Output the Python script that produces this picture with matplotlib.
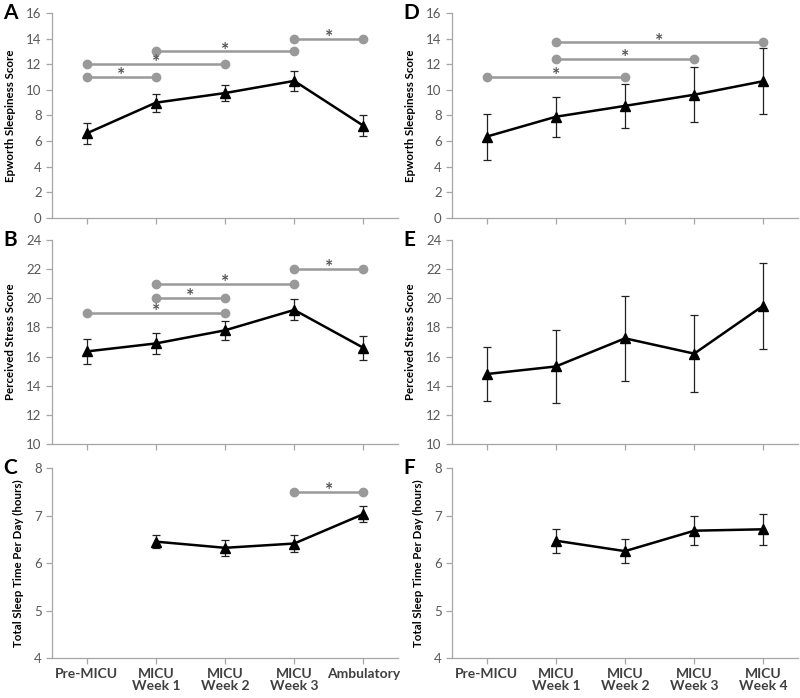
import matplotlib.pyplot as plt
import numpy as np

plt.rcParams['font.family'] = ['Lato', 'DejaVu Sans']

# Categories
cats_left = ['Pre-MICU', 'MICU\nWeek 1', 'MICU\nWeek 2', 'MICU\nWeek 3', 'Ambulatory']
cats_right = ['Pre-MICU', 'MICU\nWeek 1', 'MICU\nWeek 2', 'MICU\nWeek 3', 'MICU\nWeek 4']

# Panel A - Epworth Sleepiness Score
a_mean = [6.6, 9.0, 9.75, 10.7, 7.2]
a_err = [0.8, 0.7, 0.65, 0.78, 0.8]
a_sig = [(0, 1, 11), (0, 2, 12), (1, 3, 13), (3, 4, 14)]

# Panel B - Perceived Stress Score
b_mean = [16.35, 16.9, 17.8, 19.2, 16.6]
b_err = [0.85, 0.7, 0.65, 0.72, 0.83]
b_sig = [(0, 2, 19), (1, 2, 20), (1, 3, 21), (3, 4, 22)]

# Panel C - Total sleep time (no Pre-MICU value)
c_mean = [np.nan, 6.45, 6.32, 6.41, 7.03]
c_err = [np.nan, 0.13, 0.17, 0.18, 0.16]
c_sig = [(3, 4, 7.5)]

# Panel D
d_mean = [6.35, 7.9, 8.75, 9.62, 10.68]
d_err = [1.8, 1.55, 1.7, 2.15, 2.55]
d_sig = [(0, 2, 11), (1, 3, 12.4), (1, 4, 13.7)]

# Panel E
e_mean = [14.8, 15.32, 17.25, 16.2, 19.5]
e_err = [1.85, 2.5, 2.9, 2.65, 2.95]
e_sig = []

# Panel F
f_mean = [np.nan, 6.47, 6.25, 6.68, 6.71]
f_err = [np.nan, 0.25, 0.25, 0.31, 0.33]
f_sig = []

SPINE = '#a6a6a6'
TXT = '#595959'


def draw_panel(ax, mean, err, sig, ylim, yticks, ylabel, letter, cats, show_x):
    x = np.arange(len(cats))
    for x0, x1, yv in sig:
        ax.plot([x0, x1], [yv, yv], color='#999999', lw=1.8, marker='o',
                markersize=6, zorder=2)
        # star sits just above the bar
        ax.annotate('*', xy=((x0 + x1) / 2, yv), xytext=(0, -3),
                    textcoords='offset points', ha='center', va='baseline',
                    fontsize=14, color='#555555', fontweight='bold')
    ax.errorbar(x, mean, yerr=err, color='black', lw=1.8, marker='^',
                markersize=7, ecolor='#222222', elinewidth=0.9, capsize=3,
                capthick=0.9, zorder=3)
    ax.set_xlim(-0.5, len(cats) - 0.5)
    ax.set_ylim(*ylim)
    ax.set_yticks(yticks)
    ax.set_xticks(x)
    for s in ['top', 'right']:
        ax.spines[s].set_visible(False)
    for s in ['left', 'bottom']:
        ax.spines[s].set_color(SPINE)
        ax.spines[s].set_linewidth(0.9)
    ax.tick_params(axis='y', labelsize=9.5, color=SPINE, labelcolor=TXT,
                   length=4, width=0.9)
    ax.tick_params(axis='x', color=SPINE, length=4, width=0.9, pad=3)
    if show_x:
        ax.set_xticklabels(cats, fontsize=10, fontweight='bold', color='#404040',
                           linespacing=1.0)
    else:
        ax.set_xticklabels([])
    ax.set_ylabel(ylabel, fontsize=8.3, fontweight='bold', color='black', labelpad=7)
    ax.text(-0.14, 1.0, letter, transform=ax.transAxes, fontsize=15,
            fontweight='bold', ha='left', va='center')


fig = plt.figure(figsize=(8, 6.98), dpi=100)

rows = [(0.6877, 0.2937), (0.3639, 0.2923), (0.0573, 0.2722)]
lefts = [0.065, 0.565]
w = 0.4325

axA = fig.add_axes([lefts[0], rows[0][0], w, rows[0][1]])
axB = fig.add_axes([lefts[0], rows[1][0], w, rows[1][1]])
axC = fig.add_axes([lefts[0], rows[2][0], w, rows[2][1]])
axD = fig.add_axes([lefts[1], rows[0][0], w, rows[0][1]])
axE = fig.add_axes([lefts[1], rows[1][0], w, rows[1][1]])
axF = fig.add_axes([lefts[1], rows[2][0], w, rows[2][1]])

draw_panel(axA, a_mean, a_err, a_sig, (0, 16), range(0, 17, 2),
           'Epworth Sleepiness Score', 'A', cats_left, False)
draw_panel(axB, b_mean, b_err, b_sig, (10, 24), range(10, 25, 2),
           'Perceived Stress Score', 'B', cats_left, False)
draw_panel(axC, c_mean, c_err, c_sig, (4, 8), range(4, 9),
           'Total Sleep Time Per Day (hours)', 'C', cats_left, True)
draw_panel(axD, d_mean, d_err, d_sig, (0, 16), range(0, 17, 2),
           'Epworth Sleepiness Score', 'D', cats_right, False)
draw_panel(axE, e_mean, e_err, e_sig, (10, 24), range(10, 25, 2),
           'Perceived Stress Score', 'E', cats_right, False)
draw_panel(axF, f_mean, f_err, f_sig, (4, 8), range(4, 9),
           'Total Sleep Time Per Day (hours)', 'F', cats_right, True)

fig.savefig('out.png', dpi=100, facecolor='white')
